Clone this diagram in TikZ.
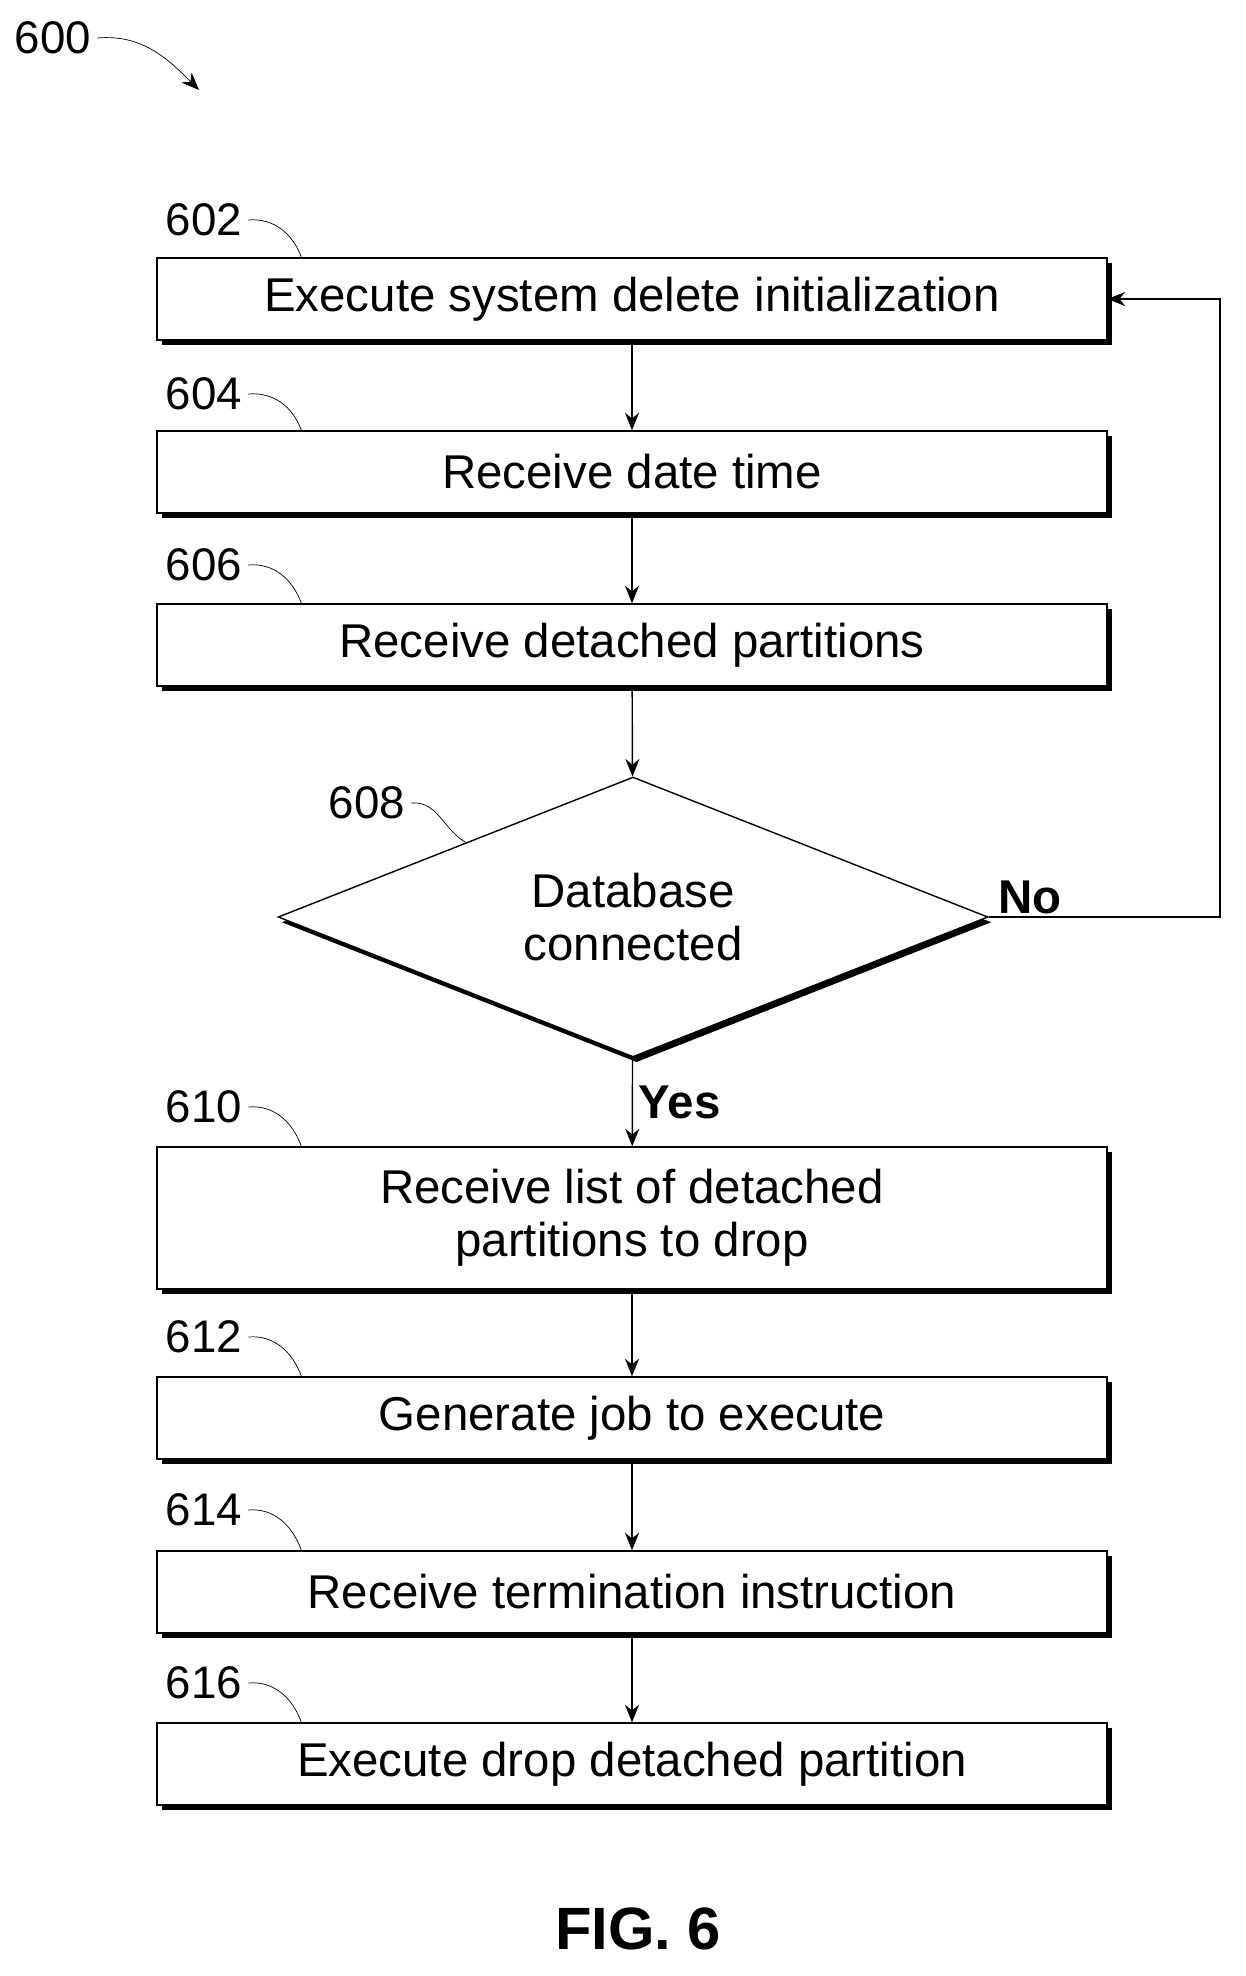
\documentclass[tikz,border=0pt]{standalone}
\usepackage{fontspec}
\setmainfont{Liberation Sans}
\usetikzlibrary{positioning, arrows.meta, shapes.geometric, shadows, calc}

\tikzset{
  procbox/.style={draw, thick, fill=white, minimum width=19cm, minimum height=1.64cm,
    align=center, font=\fontsize{27}{30}\selectfont,
    drop shadow={shadow xshift=3pt, shadow yshift=-3pt, opacity=1, fill=black}},
  check/.style={diamond, draw, thick, fill=white, aspect=2.4, inner sep=0pt,
    minimum width=14.2cm, minimum height=5.6cm, align=center, font=\fontsize{27}{30}\selectfont,
    drop shadow={shadow xshift=2pt, shadow yshift=-3pt, opacity=1, fill=black}},
  ref/.style={font=\fontsize{26}{28}\selectfont},
  flow/.style={-{Stealth[length=10pt,width=8pt]}, thick},
  leader/.style={thin}
}

\begin{document}
\begin{tikzpicture}[x=0.02cm, y=-0.02cm]
   \useasboundingbox (0,0) rectangle (1246,1976);

   % Steps
   \node[procbox] (s602) at (632,299) {Execute system delete initialization};
   \node[procbox] (s604) at (632,472) {Receive date time};
   \node[procbox] (s606) at (632,645) {Receive detached partitions};
   \node[check] (d608) at (633,917) {Database\\connected};
   \node[procbox, minimum height=2.84cm] (s610) at (632,1218) {Receive list of detached\\partitions to drop};
   \node[procbox] (s612) at (632,1418) {Generate job to execute};
   \node[procbox] (s614) at (632,1592) {Receive termination instruction};
   \node[procbox] (s616) at (632,1764) {Execute drop detached partition};

   % Reference numerals
   \node[ref] (n600) at (53,38) {600};
   \node[ref] (n602) at (204,220) {602};
   \node[ref] (n604) at (204,394) {604};
   \node[ref] (n606) at (204,565) {606};
   \node[ref] (n608) at (367,803) {608};
   \node[ref] (n610) at (204,1107) {610};
   \node[ref] (n612) at (204,1337) {612};
   \node[ref] (n614) at (204,1510) {614};
   \node[ref] (n616) at (204,1683) {616};
   \coordinate (c600) at (199,90);

   \draw[flow, thin] (n600.east) to[out=5, in=135] (c600);
   \foreach \n/\s in {602/s602, 604/s604, 606/s606, 610/s610, 612/s612, 614/s614, 616/s616}
     \draw[leader] (n\n.east) to[out=5, in=110] ($(\s.north west)+(145,0)$);
   \draw[leader] (n608.east) to[out=5, in=150] ($(d608.north)!0.47!(d608.west)$);

   % Flow
   \draw[flow] (s602) -- (s604);
   \draw[flow] (s604) -- (s606);
   \draw[flow] (s606) -- (d608);
   \draw[flow] (d608) -- node[right, font=\fontsize{27}{30}\selectfont\bfseries] {Yes} (s610);
   \draw[flow] (s610) -- (s612);
   \draw[flow] (s612) -- (s614);
   \draw[flow] (s614) -- (s616);
   \draw[flow] (d608.east) -- (1220,917) |- (s602.east);
   \node[font=\fontsize{27}{30}\selectfont\bfseries, above right=-2pt and 2pt of d608.east] (no) {No};

   \node[font=\fontsize{34}{36}\selectfont\bfseries] (fig) at (638,1929) {FIG. 6};
\end{tikzpicture}
\end{document}
